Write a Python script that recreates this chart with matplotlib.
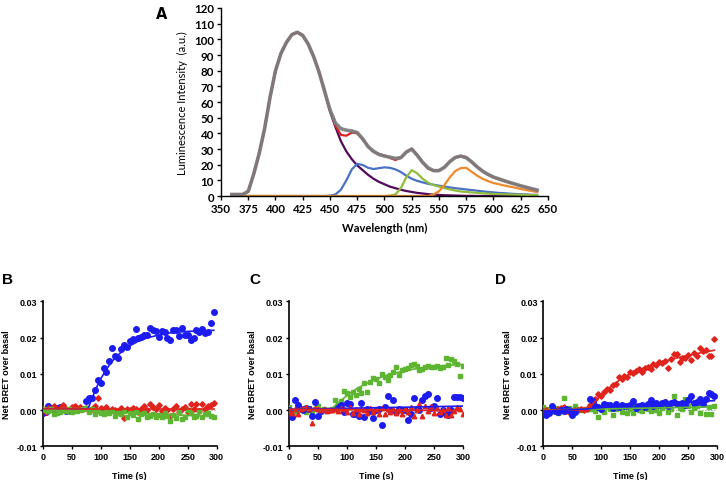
import numpy as np
import matplotlib
matplotlib.use("Agg")
from matplotlib import pyplot as plt

# ---------------- panel A: spectrum + fitted components ----------------
wavelength = np.arange(360, 645, 5)

comp_purple = [1, 1, 1, 3, 14, 27, 43, 63, 80, 91,
               98, 103, 104.5, 102.5, 97, 89, 79, 67, 54, 44,
               35, 28.5, 23.5, 19.5, 16.5, 13.5, 11, 9, 7.5, 6,
               5, 4, 3.2, 2.6, 2, 1.6, 1.2, 0.9, 0.7, 0.5,
               0.4, 0.3, 0.2, 0.1, 0.1, 0, 0, 0, 0, 0,
               0, 0, 0, 0, 0, 0, 0]
comp_blue = [0, 0, 0, 0, 0, 0, 0, 0, 0, 0,
             0, 0, 0, 0, 0, 0, 0, 0, 0.2, 1,
             4, 10, 17, 20.5, 19.8, 18, 17.2, 17.8, 18.3, 18,
             17, 15.3, 13, 11, 9.7, 8.7, 7.8, 7.2, 6.6, 6,
             5.5, 5, 4.6, 4.2, 3.8, 3.4, 3, 2.6, 2.3, 2,
             1.8, 1.5, 1.3, 1.1, 1, 0.8, 0.7]
comp_green = [0, 0, 0, 0, 0, 0, 0, 0, 0, 0,
              0, 0, 0, 0, 0, 0, 0, 0, 0, 0,
              0, 0, 0, 0, 0, 0, 0, 0, 0, 0.3,
              1, 5, 12, 16.5, 14.5, 11, 8.5, 7, 6, 5,
              4.2, 3.5, 2.9, 2.6, 2.3, 2, 1.7, 1.5, 1.3, 1.2,
              1.1, 1, 0.9, 0.8, 0.7, 0.6, 0.5]
comp_orange = [0, 0, 0, 0, 0, 0, 0, 0, 0, 0,
               0, 0, 0, 0, 0, 0, 0, 0, 0, 0,
               0, 0, 0, 0, 0, 0, 0, 0, 0, 0,
               0, 0, 0, 0, 0, 0, 0, 1, 3, 7,
               12, 16, 17.8, 18, 15.5, 13, 11, 9.5, 8.3, 7.5,
               6.7, 6, 5.3, 4.5, 3.8, 3.2, 2.5]
measured = [1, 1, 1, 3, 14, 27, 43, 63, 80, 91,
            98, 103, 104.5, 102.5, 97, 89, 79, 67, 55, 46.5,
            43, 42, 41.5, 40.5, 36.5, 31.5, 28.5, 26.5, 25.5, 24.8,
            24, 24.5, 28, 30, 26, 21.5, 18, 16.2, 16.2, 18.3,
            22, 24.6, 25.5, 24.4, 21.8, 18.6, 15.9, 13.8, 12.1, 10.9,
            9.7, 8.6, 7.6, 6.5, 5.6, 4.7, 3.8]

# ---------------- panels B-D: BRET kinetics ----------------
nan = np.nan
t_b = np.arange(0, 300, 5)
t_c = np.arange(0, 305, 5)
t_d = np.arange(0, 300, 5)

b_blue = [-0.0008, -0.0006, 0.0010, 0.0007, 0.0000, 0.0005, 0.0009, 0.0003, -0.0002, 0.0000,
          -0.0001, nan, nan, nan, nan, 0.0025, 0.0034, 0.0032, 0.0055, 0.0083,
          0.0076, 0.0116, 0.0106, 0.0135, 0.0172, 0.0150, 0.0145, 0.0168, 0.0180, 0.0175,
          0.0190, 0.0196, 0.0223, 0.0198, 0.0201, 0.0206, 0.0208, 0.0227, 0.0222, 0.0219,
          0.0202, 0.0218, 0.0215, 0.0198, 0.0194, 0.0220, 0.0222, 0.0205, 0.0227, 0.0208,
          0.0206, 0.0192, 0.0200, 0.0222, 0.0215, 0.0225, 0.0213, 0.0216, 0.0240, 0.0270]
b_red = [0.0002, -0.0004, 0.0005, 0.0003, 0.0010, 0.0000, 0.0006, 0.0013, 0.0004, -0.0002,
         0.0008, 0.0011, 0.0002, 0.0009, 0.0003, 0.0007, -0.0003, 0.0002, 0.0010, 0.0033,
         0.0005, 0.0001, 0.0009, -0.0002, 0.0004, 0.0001, -0.0004, 0.0006, -0.0022, 0.0004,
         0.0000, 0.0007, 0.0002, -0.0005, 0.0003, 0.0010, 0.0001, 0.0016, 0.0008, 0.0002,
         0.0013, -0.0003, 0.0005, 0.0000, -0.0017, 0.0004, 0.0010, -0.0004, 0.0003, 0.0008,
         -0.0006, 0.0017, 0.0002, 0.0016, -0.0003, 0.0017, 0.0004, 0.0010, 0.0014, 0.0020]
b_green = [0.0004, 0.0001, -0.0002, 0.0003, -0.0010, -0.0008, -0.0005, 0.0000, -0.0003, 0.0002,
           -0.0004, 0.0001, -0.0002, 0.0000, 0.0002, 0.0005, -0.0006, 0.0002, -0.0010, -0.0003,
           -0.0008, -0.0012, -0.0004, -0.0009, -0.0003, -0.0015, -0.0007, -0.0011, -0.0002, -0.0019,
           -0.0009, -0.0014, -0.0005, -0.0025, -0.0012, -0.0007, -0.0020, -0.0016, -0.0011, -0.0020,
           -0.0014, -0.0018, -0.0009, -0.0015, -0.0031, -0.0013, -0.0022, -0.0006, -0.0024, -0.0019,
           -0.0001, -0.0008, -0.0020, -0.0015, -0.0003, -0.0018, -0.0012, -0.0009, -0.0017, -0.0018]
b_fit_blue_t = [0, 78, 85, 90, 95, 100, 110, 120, 130, 140, 150, 165, 180, 200, 220, 250, 295]
b_fit_blue = [0.0003, 0.0003, 0.0032, 0.0052, 0.0070, 0.0086, 0.0113, 0.0135, 0.0152, 0.0166,
              0.0177, 0.0190, 0.0199, 0.0207, 0.0213, 0.0217, 0.0220]
b_fit_red_t = [0, 295]
b_fit_red = [0.0003, 0.0003]
b_fit_green_t = [0, 75, 295]
b_fit_green = [-0.0001, -0.0002, -0.0018]

c_blue = [0.0001, -0.0019, 0.0027, 0.0013, 0.0004, -0.0001, 0.0007, 0.0002, -0.0017, 0.0022,
          -0.0017, -0.0002, nan, nan, nan, nan, nan, 0.0012, 0.0014, -0.0006,
          0.0019, 0.0017, -0.0011, -0.0012, -0.0017, 0.0020, -0.0018, 0.0004, -0.0003, -0.0021,
          0.0000, 0.0002, -0.0040, 0.0008, 0.0038, 0.0000, 0.0027, -0.0005, 0.0003, 0.0001,
          -0.0001, -0.0028, -0.0010, 0.0033, 0.0004, 0.0000, 0.0028, 0.0039, 0.0043, 0.0005,
          0.0011, 0.0033, -0.0011, 0.0000, -0.0012, -0.0013, 0.0000, 0.0037, 0.0035, 0.0036,
          0.0034]
c_red = [-0.0003, -0.0008, 0.0002, -0.0010, 0.0004, 0.0006, 0.0009, 0.0003, -0.0037, 0.0005,
         0.0002, 0.0000, 0.0003, -0.0002, 0.0001, 0.0000, 0.0003, -0.0002, 0.0005, 0.0002,
         -0.0005, 0.0008, -0.0008, 0.0003, -0.0010, 0.0004, 0.0000, -0.0009, 0.0006, -0.0006,
         0.0002, -0.0010, 0.0007, -0.0012, 0.0002, -0.0005, 0.0004, -0.0007, 0.0001, -0.0011,
         0.0003, -0.0004, 0.0008, -0.0017, 0.0000, 0.0017, -0.0015, 0.0012, -0.0002, 0.0010,
         -0.0009, 0.0005, -0.0004, 0.0001, -0.0013, 0.0006, -0.0013, -0.0002, 0.0009, 0.0003,
         -0.0010]
c_green = [0.0008, -0.0010, -0.0005, 0.0002, 0.0004, 0.0000, -0.0006, 0.0006, -0.0004, 0.0003,
           0.0010, -0.0002, 0.0002, 0.0001, 0.0000, 0.0003, 0.0027, 0.0013, 0.0025, 0.0052,
           0.0046, 0.0035, 0.0050, 0.0041, 0.0059, 0.0048, 0.0075, 0.0050, 0.0078, 0.0088,
           0.0085, 0.0075, 0.0100, 0.0092, 0.0082, 0.0097, 0.0105, 0.0120, 0.0098, 0.0110,
           0.0112, 0.0115, 0.0125, 0.0126, 0.0122, 0.0110, 0.0112, 0.0118, 0.0121, 0.0119,
           0.0120, 0.0121, 0.0117, 0.0120, 0.0143, 0.0124, 0.0142, 0.0134, 0.0126, 0.0093,
           0.0122]
c_fit_green_t = [0, 72, 80, 90, 100, 115, 130, 150, 170, 200, 230, 260, 300]
c_fit_green = [0.0002, 0.0002, 0.0013, 0.0027, 0.0040, 0.0057, 0.0071, 0.0085, 0.0097, 0.0109,
               0.0117, 0.0122, 0.0126]
c_fit_blue_t = [0, 300]
c_fit_blue = [0.0002, 0.0011]
c_fit_red_t = [0, 75, 300]
c_fit_red = [0.0002, 0.0002, -0.0002]

d_blue = [-0.0005, -0.0013, -0.0008, 0.0010, -0.0003, -0.0006, 0.0001, -0.0002, 0.0004, -0.0001,
          -0.0014, -0.0006, nan, nan, nan, nan, 0.0030, 0.0025, 0.0012, 0.0008,
          0.0004, 0.0016, 0.0013, 0.0015, 0.0006, 0.0017, 0.0008, 0.0014, 0.0011, 0.0010,
          0.0014, 0.0026, 0.0007, 0.0012, 0.0013, 0.0009, 0.0016, 0.0027, 0.0011, 0.0020,
          0.0014, 0.0019, 0.0022, 0.0012, 0.0019, 0.0021, 0.0018, 0.0017, 0.0020, 0.0014,
          0.0028, 0.0038, 0.0019, 0.0022, 0.0031, 0.0016, 0.0030, 0.0048, 0.0043, 0.0040]
d_red = [-0.0003, 0.0001, -0.0005, 0.0004, 0.0000, 0.0002, 0.0006, 0.0008, -0.0002, -0.0005,
         -0.0003, 0.0001, 0.0000, 0.0002, -0.0001, 0.0002, 0.0014, 0.0022, 0.0030, 0.0044,
         0.0040, 0.0050, 0.0057, 0.0054, 0.0068, 0.0072, 0.0090, 0.0085, 0.0095, 0.0090,
         0.0104, 0.0102, 0.0108, 0.0112, 0.0104, 0.0115, 0.0120, 0.0113, 0.0128, 0.0125,
         0.0132, 0.0130, 0.0136, 0.0117, 0.0140, 0.0156, 0.0155, 0.0132, 0.0145, 0.0143,
         0.0152, 0.0137, 0.0158, 0.0150, 0.0170, 0.0162, 0.0166, 0.0150, 0.0148, 0.0195]
d_green = [0.0008, 0.0003, -0.0004, 0.0001, 0.0005, -0.0008, 0.0002, 0.0032, -0.0003, 0.0006,
           0.0001, 0.0012, 0.0003, 0.0000, 0.0002, 0.0004, 0.0002, 0.0017, -0.0002, -0.0020,
           0.0006, -0.0005, 0.0010, 0.0003, -0.0014, 0.0002, 0.0008, -0.0004, 0.0011, -0.0007,
           0.0004, -0.0008, 0.0012, 0.0001, -0.0003, 0.0009, 0.0004, -0.0002, 0.0013, 0.0000,
           -0.0009, 0.0005, 0.0010, -0.0006, 0.0003, 0.0038, -0.0014, 0.0007, 0.0002, 0.0030,
           0.0011, -0.0005, 0.0006, 0.0012, -0.0009, 0.0016, -0.0012, 0.0008, -0.0010, 0.0010]
d_fit_red_t = [0, 75, 80, 90, 100, 115, 130, 150, 175, 200, 225, 250, 275, 295]
d_fit_red = [0.0, 0.0, 0.0007, 0.0025, 0.0041, 0.0063, 0.0081, 0.0100, 0.0117, 0.0130,
             0.0142, 0.0151, 0.0159, 0.0165]
d_fit_blue_t = [0, 75, 150, 225, 295]
d_fit_blue = [-0.0003, 0.0003, 0.0015, 0.0021, 0.0026]
d_fit_green_t = [0, 295]
d_fit_green = [0.0, 0.0009]

BLUE = "#1c1cf0"
RED = "#e0231d"
GREEN = "#5db531"

fig = plt.figure(figsize=(7.26, 4.81), dpi=100)

# ---- panel A ----
lato = ["Lato", "DejaVu Sans"]
axA = fig.add_axes([0.3044, 0.5904, 0.4504, 0.3909])
axA.plot(wavelength, comp_purple, color="#520a5a", lw=1.6)
axA.plot(wavelength, comp_blue, color="#4a72c4", lw=1.6)
axA.plot(wavelength, comp_green, color="#8fbc3f", lw=1.6)
axA.plot(wavelength, comp_orange, color="#ee8a2e", lw=1.6)
fit_total = np.array(comp_purple) + np.array(comp_blue) + np.array(comp_green) + np.array(comp_orange)
axA.plot(wavelength, fit_total, color="#e02020", lw=1.6)
axA.plot(wavelength, measured, color="#7d7d7d", lw=2.6, alpha=0.95)
axA.set_xlim(350, 650)
axA.set_ylim(0, 120)
axA.set_xticks(range(350, 651, 25))
axA.set_yticks(range(0, 121, 10))
for s in ["top", "right"]:
    axA.spines[s].set_visible(False)
for s in ["left", "bottom"]:
    axA.spines[s].set_linewidth(1.0)
axA.tick_params(length=3, width=1.0, pad=2)
for lab in axA.get_xticklabels() + axA.get_yticklabels():
    lab.set_family(lato)
    lab.set_fontweight("bold")
    lab.set_fontsize(8.3)
axA.set_xlabel("Wavelength (nm)", family=lato, fontweight="bold", fontsize=8, labelpad=6)
axA.set_ylabel("Luminescence Intensity  (a.u.)", family=lato, fontsize=8, labelpad=4)
fig.text(0.223, 0.985, "A", fontsize=10.5, fontweight="bold", ha="center", va="top")

# ---- panels B-D ----
panels = [
    ("B", 0.0588, t_b,
     [(b_blue, BLUE, "o", 4.0), (b_red, RED, "D", 2.8), (b_green, GREEN, "s", 3.2)],
     [(b_fit_blue_t, b_fit_blue, BLUE), (b_fit_red_t, b_fit_red, RED), (b_fit_green_t, b_fit_green, GREEN)],
     0.011),
    ("C", 0.398, t_c,
     [(c_green, GREEN, "s", 3.2), (c_blue, BLUE, "o", 4.0), (c_red, RED, "^", 3.2)],
     [(c_fit_green_t, c_fit_green, GREEN), (c_fit_blue_t, c_fit_blue, BLUE), (c_fit_red_t, c_fit_red, RED)],
     0.351),
    ("D", 0.7483, t_d,
     [(d_green, GREEN, "s", 3.2), (d_red, RED, "D", 2.8), (d_blue, BLUE, "o", 4.0)],
     [(d_fit_green_t, d_fit_green, GREEN), (d_fit_red_t, d_fit_red, RED), (d_fit_blue_t, d_fit_blue, BLUE)],
     0.689),
]

for letter, left, t, series, fits, lx in panels:
    ax = fig.add_axes([left, 0.070, 0.2397, 0.3015])
    ax.axhline(0, color="#9a9a9a", lw=0.8, ls=":", zorder=1)
    for vals, col, mk, ms in series:
        ax.plot(t, vals, ls="none", marker=mk, ms=ms, color=col, mec=col, zorder=3)
    for ft, fv, col in fits:
        ax.plot(ft, fv, color=col, lw=1.2, zorder=4)
    ax.set_xlim(0, 300)
    ax.set_ylim(-0.01, 0.03)
    ax.set_xticks(range(0, 301, 50))
    ax.set_yticks([-0.01, 0.0, 0.01, 0.02, 0.03])
    ax.set_yticklabels(["-0.01", "0.00", "0.01", "0.02", "0.03"])
    for s in ["top", "right"]:
        ax.spines[s].set_visible(False)
    for s in ["left", "bottom"]:
        ax.spines[s].set_linewidth(1.2)
    ax.tick_params(length=2.5, width=1.0, pad=1.5, labelsize=6.5)
    for lab in ax.get_xticklabels() + ax.get_yticklabels():
        lab.set_fontweight("bold")
        lab.set_family("Liberation Sans")
    ax.set_xlabel("Time (s)", fontsize=6.5, fontweight="bold", family="Liberation Sans", labelpad=7)
    ax.set_ylabel("Net BRET over basal", fontsize=6.5, fontweight="bold", family="Liberation Sans", labelpad=4)
    fig.text(lx, 0.418, letter, fontsize=11, fontweight="bold", family="Liberation Sans",
             ha="center", va="center")

fig.savefig("out.png", dpi=100)
